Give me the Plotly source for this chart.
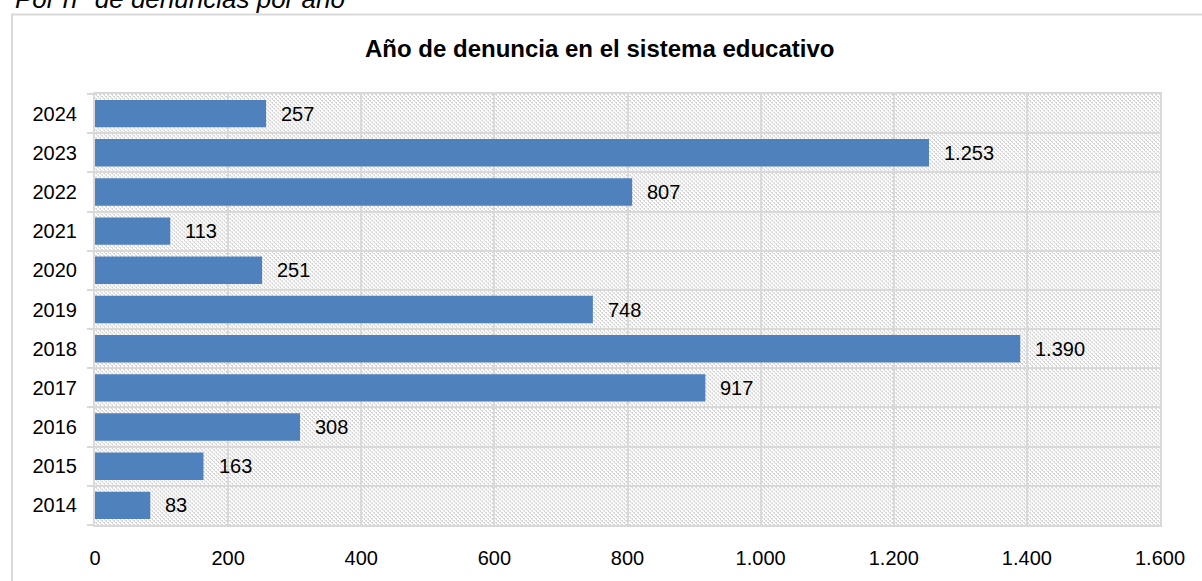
import base64
import plotly.graph_objects as go

years = ["2014", "2015", "2016", "2017", "2018", "2019", "2020", "2021", "2022", "2023", "2024"]
counts = [83, 163, 308, 917, 1390, 748, 251, 113, 807, 1253, 257]
x_ticks = [0, 200, 400, 600, 800, 1000, 1200, 1400, 1600]

title_text = "Año de denuncia en el sistema educativo"
caption_text = "Por n° de denuncias por año"

W, H = 1202, 581
L, R, T, B = 95, 42, 94, 48
PW, PH = W - L - R, H - T - B


def px_x(px):
    return (px - L) / PW


def px_y(py):
    return 1 - (py - T) / PH


def fmt(v):
    return f"{v:,}".replace(",", ".")


FONT = "Liberation Sans, Arial, sans-serif"
GRID = "#d9d9d9"

fig = go.Figure()
fig.add_trace(go.Bar(
    x=counts, y=years, orientation="h",
    marker=dict(color="#4f81bd", line=dict(width=0)),
    width=0.7, hoverinfo="x+y",
    text=[fmt(v) for v in counts], textposition="none",
))

# data labels
for i, v in enumerate(counts):
    fig.add_annotation(x=v, y=i, xref="x", yref="y", text=fmt(v), showarrow=False,
                       xanchor="left", xshift=13, font=dict(family=FONT, size=20, color="#000000"))

# hatch background image (light downward diagonal pattern)
svg = (
    f'<svg xmlns="http://www.w3.org/2000/svg" width="{PW}" height="{PH}" shape-rendering="crispEdges">'
    '<defs><pattern id="p" width="4" height="4" patternUnits="userSpaceOnUse">'
    '<rect width="4" height="4" fill="#ffffff"/>'
    '<rect x="0" y="0" width="2" height="1" fill="#d2d2d2"/>'
    '<rect x="1" y="1" width="1" height="1" fill="#d2d2d2"/>'
    '<rect x="2" y="2" width="2" height="1" fill="#d2d2d2"/>'
    '<rect x="3" y="3" width="1" height="1" fill="#d2d2d2"/>'
    '</pattern></defs><rect width="100%" height="100%" fill="url(#p)"/></svg>'
)
src = "data:image/svg+xml;base64," + base64.b64encode(svg.encode()).decode()
fig.add_layout_image(dict(source=src, xref="paper", yref="paper", x=0, y=1, sizex=1, sizey=1,
                          sizing="stretch", xanchor="left", yanchor="top", layer="below"))

# title
fig.add_annotation(text="<b>" + title_text + "</b>", xref="paper", yref="paper",
                   x=px_x(599), y=px_y(48), xanchor="center", yanchor="middle", showarrow=False,
                   font=dict(family=FONT, size=24, color="#000000"))
# caption (cropped at top)
fig.add_annotation(text="<i>" + caption_text + "</i>", xref="paper", yref="paper",
                   x=px_x(13), y=px_y(15), xanchor="left", yanchor="bottom", showarrow=False,
                   font=dict(family=FONT, size=26, color="#000000"))

# chart frame
fig.add_shape(type="rect", xref="paper", yref="paper",
              x0=px_x(12), x1=px_x(1220), y0=px_y(600), y1=px_y(13),
              line=dict(color=GRID, width=2), fillcolor="rgba(0,0,0,0)", layer="above")

fig.update_layout(
    width=W, height=H,
    margin=dict(l=L, r=R, t=T, b=B, pad=0),
    paper_bgcolor="#ffffff", plot_bgcolor="rgba(0,0,0,0)",
    separators=",.",
    showlegend=False,
    bargap=0.3,
    font=dict(family=FONT, size=20, color="#000000"),
    xaxis=dict(range=[0, 1600], tickvals=x_ticks, ticktext=[fmt(v) for v in x_ticks],
               showgrid=True, gridcolor=GRID, gridwidth=2, zeroline=False,
               showline=True, linecolor=GRID, linewidth=2, mirror=True,
               ticks="", ticklabelstandoff=14, fixedrange=True,
               tickfont=dict(family=FONT, size=20, color="#000000")),
    yaxis=dict(type="category", categoryorder="array", categoryarray=years,
               range=[-0.5, len(years) - 0.5], autorange=False,
               tickson="boundaries", showgrid=True, gridcolor=GRID, gridwidth=2,
               showline=True, linecolor=GRID, linewidth=2, mirror=True,
               ticks="outside", ticklen=6, tickcolor=GRID, tickwidth=2, ticklabelstandoff=12,
               fixedrange=True, tickfont=dict(family=FONT, size=20, color="#000000")),
)

fig.write_html("out.html")
